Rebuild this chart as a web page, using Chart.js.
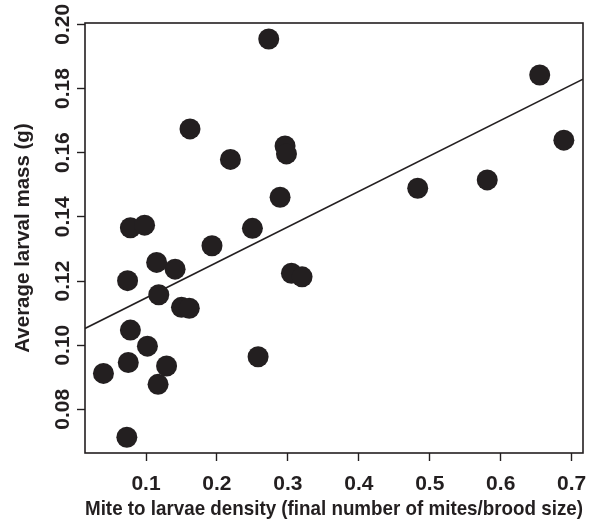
<!DOCTYPE html>
<html>
<head>
<meta charset="utf-8">
<script src="https://cdn.jsdelivr.net/npm/chart.js@4"></script>
<style>
  html, body { margin: 0; padding: 0; background: #fff; }
  #wrap { width: 608px; height: 524px; }
</style>
</head>
<body>
<div id="wrap"><canvas id="grafico" width="608" height="524"></canvas></div>
<script>
// densidade de acaros (x) e massa media das larvas (y)
const densidade = [0.040, 0.073, 0.075, 0.078, 0.074, 0.078, 0.098, 0.102, 0.115, 0.118,
  0.117, 0.129, 0.141, 0.150, 0.161, 0.162, 0.193, 0.219, 0.250, 0.258,
  0.273, 0.289, 0.296, 0.298, 0.305, 0.320, 0.483, 0.581, 0.655, 0.689];
const massa = [0.0912, 0.0713, 0.0946, 0.1047, 0.1201, 0.1366, 0.1374, 0.0997, 0.1258, 0.1157,
  0.0878, 0.0935, 0.1237, 0.1118, 0.1115, 0.1674, 0.1310, 0.1579, 0.1364, 0.0964,
  0.1954, 0.1461, 0.1621, 0.1596, 0.1224, 0.1213, 0.1489, 0.1515, 0.1842, 0.1639];

// reta ajustada (extremos)
const retaX = [0.014, 0.716];
const retaY = [0.1052, 0.1829];

const ticksX = [0.1, 0.2, 0.3, 0.4, 0.5, 0.6, 0.7];
const ticksY = [0.08, 0.10, 0.12, 0.14, 0.16, 0.18, 0.20];

const tituloX = 'Mite to larvae density (final number of mites/brood size)';
const tituloY = 'Average larval mass (g)';

const cor = '#231f20';
const fonte = '"Liberation Sans", Arial, Helvetica, sans-serif';

const pontos = densidade.map((x, i) => ({ x: x, y: massa[i] }));
const reta = retaX.map((x, i) => ({ x: x, y: retaY[i] }));

// caixa completa + rotulos do eixo y girados (estilo R)
const molduraPlugin = {
  id: 'moldura',
  afterDraw(chart) {
    const ctx = chart.ctx;
    const area = chart.chartArea;
    const y = chart.scales.y;
    ctx.save();
    ctx.strokeStyle = cor;
    ctx.lineWidth = 1.6;
    ctx.strokeRect(area.left, area.top, area.right - area.left, area.bottom - area.top);

    ctx.fillStyle = cor;
    ctx.textAlign = 'center';
    ctx.textBaseline = 'middle';
    ctx.font = 'bold 21px ' + fonte;
    ticksY.forEach(v => {
      const py = y.getPixelForValue(v);
      ctx.save();
      ctx.translate(63, py);
      ctx.rotate(-Math.PI / 2);
      ctx.fillText(v.toFixed(2), 0, 0);
      ctx.restore();
    });

    ctx.font = 'bold 20.5px ' + fonte;
    ctx.save();
    ctx.translate(23, (area.top + area.bottom) / 2);
    ctx.rotate(-Math.PI / 2);
    ctx.fillText(tituloY, 0, 0);
    ctx.restore();
    ctx.restore();
  }
};

new Chart(document.getElementById('grafico').getContext('2d'), {
  type: 'scatter',
  data: {
    datasets: [{
      type: 'line',
      data: reta,
      borderColor: cor,
      borderWidth: 1.6,
      pointRadius: 0,
      fill: false,
      order: 2
    }, {
      data: pontos,
      backgroundColor: cor,
      borderColor: cor,
      borderWidth: 0,
      pointRadius: 10.5,
      order: 1
    }]
  },
  options: {
    responsive: false,
    animation: false,
    layout: { padding: { left: 0, right: 25, top: 23, bottom: 0 } },
    plugins: {
      legend: { display: false },
      tooltip: { enabled: false }
    },
    scales: {
      x: {
        type: 'linear',
        min: 0.014,
        max: 0.716,
        afterBuildTicks: s => { s.ticks = ticksX.map(v => ({ value: v })); },
        afterFit: s => { s.height = 71; },
        border: { display: false },
        grid: { drawOnChartArea: false, drawTicks: true, tickLength: 8, color: cor, tickWidth: 1.4 },
        ticks: {
          padding: 11,
          color: cor,
          maxRotation: 0,
          font: { family: fonte, size: 21, weight: 'bold' },
          callback: v => v.toFixed(1)
        },
        title: {
          display: true,
          text: tituloX,
          color: cor,
          font: { family: fonte, size: 20.5, weight: 'bold' },
          padding: { top: 0, bottom: 2 }
        }
      },
      y: {
        type: 'linear',
        min: 0.0664,
        max: 0.2004,
        afterBuildTicks: s => { s.ticks = ticksY.map(v => ({ value: v })); },
        afterFit: s => { s.width = 85; },
        border: { display: false },
        grid: { drawOnChartArea: false, drawTicks: true, tickLength: 8, color: cor, tickWidth: 1.4 },
        ticks: { display: false }
      }
    }
  },
  plugins: [molduraPlugin]
});
</script>
</body>
</html>
